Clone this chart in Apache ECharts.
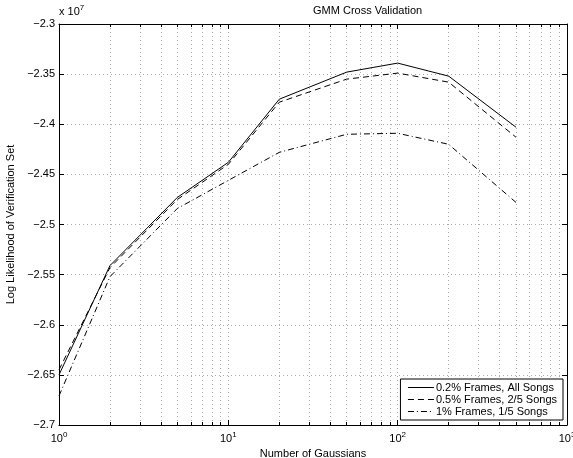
<!DOCTYPE html>
<html>
<head>
<meta charset="utf-8">
<script src="https://cdn.jsdelivr.net/npm/echarts@6/dist/echarts.min.js"></script>
<style>
  html, body { margin: 0; padding: 0; background: #fff; }
  #chart { width: 573px; height: 458px; }
</style>
</head>
<body>
<div id="chart"></div>
<script>
// ---- data (values in units of 1e7) ----
const gaussians = [1, 2, 5, 10, 20, 50, 100, 200, 500];
const allSongs   = [-2.650, -2.541, -2.473, -2.438, -2.375, -2.348, -2.339, -2.352, -2.403];
const twoFifths  = [-2.645, -2.543, -2.475, -2.440, -2.378, -2.355, -2.349, -2.358, -2.413];
const oneFifth   = [-2.671, -2.552, -2.484, -2.456, -2.428, -2.410, -2.409, -2.420, -2.478];
const seriesNames = ['0.2% Frames, All Songs', '0.5% Frames, 2/5 Songs', '1% Frames, 1/5 Songs'];
const majorX = [1, 10, 100, 1000];
const minorX = [2,3,4,5,6,7,8,9,20,30,40,50,60,70,80,90,200,300,400,500,600,700,800,900];

const FONT = 'Liberation Sans, Arial, Helvetica, sans-serif';
const gridDash = [1, 3];
const gridColor = '#aaa';

const chart = echarts.init(document.getElementById('chart'), null, { renderer: 'canvas' });

const pair = arr => gaussians.map((g, i) => [g, arr[i]]);

const baseX = {
  type: 'log', logBase: 10, min: 1, max: 1000, gridIndex: 0,
  axisLine: { show: false },
  axisLabel: { show: false },
  splitLine: { show: false },
  axisTick: { show: false }
};

const option = {
  backgroundColor: '#fff',
  animation: false,
  textStyle: { fontFamily: FONT },
  grid: { left: 59, right: 6, top: 24, bottom: 33, containLabel: false, outerBoundsMode: 'none' },
  graphic: [
    { type: 'text', left: 313, top: 5, style: { text: 'GMM Cross Validation', font: '11px ' + FONT, fill: '#000', textAlign: 'center' } },
    { type: 'text', left: 59, top: 4, style: {
        text: 'x 10{s|7}', fill: '#000', font: '11px ' + FONT,
        rich: { s: { fontSize: 8, padding: [0, 0, 7, 0], fontFamily: FONT } }
      } }
  ],
  legend: {
    orient: 'vertical', right: 10, bottom: 38,
    backgroundColor: '#fff', borderColor: '#000', borderWidth: 1, borderRadius: 0,
    padding: [3, 6, 3, 7], itemGap: 1, itemWidth: 26, itemHeight: 12,
    itemStyle: { opacity: 0 },
    lineStyle: { opacity: 1, width: 1 },
    textStyle: { fontSize: 11, color: '#000', fontFamily: FONT, padding: [0, 0, 0, -3] },
    data: seriesNames
  },
  xAxis: [
    Object.assign({}, baseX, {
      position: 'bottom',
      name: 'Number of Gaussians', nameLocation: 'middle', nameGap: 23,
      nameTextStyle: { fontSize: 11, color: '#000', fontFamily: FONT },
      axisLine: { show: true, onZero: false, lineStyle: { color: '#000', width: 1 } },
      axisTick: { show: true, inside: true, length: 5, lineStyle: { color: '#000' } },
      axisLabel: {
        show: true, margin: 6, color: '#000', fontSize: 11, fontFamily: FONT,
        formatter: v => '10{s|' + Math.round(Math.log10(v)) + '}',
        rich: { s: { fontSize: 8, padding: [0, 0, 7, 0], fontFamily: FONT, color: '#000' } }
      },
      splitLine: { show: true, lineStyle: { color: gridColor, type: gridDash, width: 1 } }
    }),
    Object.assign({}, baseX, {
      position: 'bottom',
      axisTick: { show: true, inside: true, length: 3, customValues: minorX, lineStyle: { color: '#000' } },
      splitLine: { show: true, lineStyle: { color: gridColor, type: gridDash, width: 1 } }
    }),
    Object.assign({}, baseX, {
      position: 'top',
      axisLine: { show: true, onZero: false, lineStyle: { color: '#000', width: 1 } },
      axisTick: { show: true, inside: true, length: 5, lineStyle: { color: '#000' } }
    }),
    Object.assign({}, baseX, {
      position: 'top',
      axisTick: { show: true, inside: true, length: 3, customValues: minorX, lineStyle: { color: '#000' } }
    })
  ],
  yAxis: [
    {
      type: 'value', min: -2.7, max: -2.3, interval: 0.05, position: 'left',
      name: 'Log Likelihood of Verification Set', nameLocation: 'middle', nameGap: 38,
      nameTextStyle: { fontSize: 11, color: '#000', fontFamily: FONT },
      axisLine: { show: true, onZero: false, lineStyle: { color: '#000', width: 1 } },
      axisTick: { show: true, inside: true, length: 5, lineStyle: { color: '#000' } },
      axisLabel: {
        color: '#000', fontSize: 11, margin: 4, fontFamily: FONT,
        formatter: v => (Math.round(v * 100) / 100).toString().replace('-', '\u2212')
      },
      splitLine: { show: true, lineStyle: { color: gridColor, type: gridDash, width: 1 } }
    },
    {
      type: 'value', min: -2.7, max: -2.3, interval: 0.05, position: 'right',
      axisLine: { show: true, onZero: false, lineStyle: { color: '#000', width: 1 } },
      axisTick: { show: true, inside: true, length: 5, lineStyle: { color: '#000' } },
      axisLabel: { show: false },
      splitLine: { show: false }
    }
  ],
  series: [
    { name: seriesNames[0], type: 'line', xAxisIndex: 0, yAxisIndex: 0, data: pair(allSongs),
      symbol: 'none', lineStyle: { color: '#000', width: 1, type: 'solid' }, itemStyle: { color: 'rgba(0,0,0,0)' } },
    { name: seriesNames[1], type: 'line', xAxisIndex: 0, yAxisIndex: 0, data: pair(twoFifths),
      symbol: 'none', lineStyle: { color: '#000', width: 1, type: [6, 4] }, itemStyle: { color: 'rgba(0,0,0,0)' } },
    { name: seriesNames[2], type: 'line', xAxisIndex: 0, yAxisIndex: 0, data: pair(oneFifth),
      symbol: 'none', lineStyle: { color: '#000', width: 1, type: [6, 3, 1, 3] }, itemStyle: { color: 'rgba(0,0,0,0)' } }
  ]
};

chart.setOption(option);
</script>
</body>
</html>
